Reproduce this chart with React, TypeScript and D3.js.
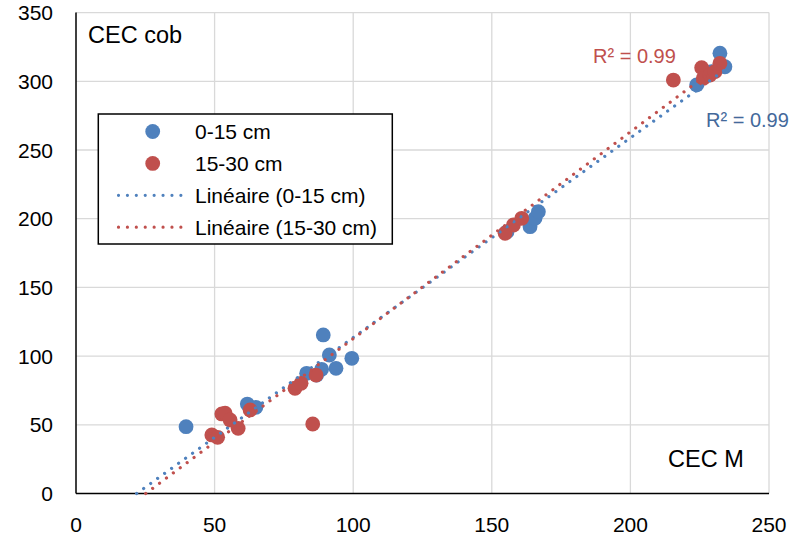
import React, { useEffect, useRef } from 'react'
import * as d3 from 'd3'

// CEC M (x) vs CEC cob (y), two soil depths
const xTicks = [0, 50, 100, 150, 200, 250]
const yTicks = [0, 50, 100, 150, 200, 250, 300, 350]

const blueX = [39.7, 61.8, 64.9, 83.2, 86.8, 88.6, 89.2, 91.4, 93.8, 99.5, 155.5, 163.8, 165.6, 166.8, 223.9, 229.3, 232.3, 234.1]
const blueY = [48.6, 65.1, 62.7, 87.5, 86.2, 90.4, 115.4, 100.8, 91.1, 98.4, 190.5, 194.2, 200.3, 205.1, 297.3, 307, 320.4, 310.6]

const redX = [49, 51.1, 52.6, 53.8, 55.6, 58.5, 62.8, 79, 81.2, 85.4, 86.6, 154.8, 157.8, 160.8, 215.5, 225.7, 226.3, 228.7, 230.5, 232.3]
const redY = [42.6, 40.9, 57.9, 58.5, 53.5, 47.4, 60.8, 76.6, 80.2, 50.6, 86.2, 189.4, 195.4, 200.3, 300.9, 309.9, 302.2, 304.6, 307, 313.1]

const seriesNames = ['0-15 cm', '15-30 cm']
const trendNames = ['Linéaire (0-15 cm)', 'Linéaire (15-30 cm)']
const r2Labels = ['R² = 0.99', 'R² = 0.99']

const BLUE = '#4F81BD'
const RED = '#C0504D'
const FONT = '"Liberation Sans", Arial, sans-serif'

function fit(xs: number[], ys: number[]) {
  const mx = d3.mean(xs) as number
  const my = d3.mean(ys) as number
  let sxy = 0
  let sxx = 0
  xs.forEach((x, i) => {
    sxy += (x - mx) * (ys[i] - my)
    sxx += (x - mx) * (x - mx)
  })
  const slope = sxy / sxx
  return { slope, intercept: my - slope * mx }
}

const App = () => {
  const ref = useRef<SVGSVGElement>(null)

  useEffect(() => {
    const svg = d3.select(ref.current)
    svg.selectAll('*').remove()

    const x = d3.scaleLinear().domain([0, 250]).range([76, 769])
    const y = d3.scaleLinear().domain([0, 350]).range([493.5, 12.6])

    // gridlines
    svg.append('g')
      .selectAll('line')
      .data(yTicks.filter((d) => d > 0))
      .join('line')
      .attr('x1', x(0)).attr('x2', x(250))
      .attr('y1', (d) => y(d)).attr('y2', (d) => y(d))
      .attr('stroke', '#D9D9D9').attr('stroke-width', 1.3)
    svg.append('g')
      .selectAll('line')
      .data(xTicks.filter((d) => d > 0))
      .join('line')
      .attr('x1', (d) => x(d)).attr('x2', (d) => x(d))
      .attr('y1', y(0)).attr('y2', y(350))
      .attr('stroke', '#D9D9D9').attr('stroke-width', 1.3)

    // axes
    svg.append('line')
      .attr('x1', x(0)).attr('x2', x(0)).attr('y1', y(0)).attr('y2', y(350))
      .attr('stroke', '#000').attr('stroke-width', 1.5)
    svg.append('line')
      .attr('x1', x(0)).attr('x2', x(250)).attr('y1', y(0)).attr('y2', y(0))
      .attr('stroke', '#000').attr('stroke-width', 1.5)

    svg.append('g')
      .selectAll('text')
      .data(yTicks)
      .join('text')
      .attr('x', 53).attr('y', (d) => y(d) + 7.5)
      .attr('text-anchor', 'end')
      .attr('font-size', 21).attr('font-family', FONT)
      .text((d) => d)
    svg.append('g')
      .selectAll('text')
      .data(xTicks)
      .join('text')
      .attr('x', (d) => x(d)).attr('y', 531.5)
      .attr('text-anchor', 'middle')
      .attr('font-size', 21).attr('font-family', FONT)
      .text((d) => d)

    // points
    const series = [
      { xs: blueX, ys: blueY, color: BLUE },
      { xs: redX, ys: redY, color: RED },
    ]
    series.forEach((s) => {
      svg.append('g')
        .selectAll('circle')
        .data(s.xs)
        .join('circle')
        .attr('cx', (d) => x(d))
        .attr('cy', (d, i) => y(s.ys[i]))
        .attr('r', 7.4)
        .attr('fill', s.color)
    })

    // linear trendlines, clipped at y = 0
    series.forEach((s) => {
      const { slope, intercept } = fit(s.xs, s.ys)
      const x0 = Math.max(0, -intercept / slope)
      const x1 = d3.max(s.xs) as number
      const line = d3.line<number>().x((d) => x(d)).y((d) => y(slope * d + intercept))
      svg.append('path')
        .attr('d', line([x0, x1]))
        .attr('fill', 'none')
        .attr('stroke', s.color)
        .attr('stroke-width', 3.2)
        .attr('stroke-linecap', 'round')
        .attr('stroke-dasharray', '0.01 8.6')
    })

    // R² labels
    svg.append('text')
      .attr('x', 593).attr('y', 63)
      .attr('font-size', 20).attr('font-family', FONT)
      .attr('fill', RED)
      .text(r2Labels[1])
    svg.append('text')
      .attr('x', 706).attr('y', 127)
      .attr('font-size', 20).attr('font-family', FONT)
      .attr('fill', '#44699B')
      .text(r2Labels[0])

    // axis titles inside plot
    svg.append('text')
      .attr('x', 88).attr('y', 42.5)
      .attr('font-size', 23.5).attr('font-family', FONT)
      .text('CEC cob')
    svg.append('text')
      .attr('x', 668).attr('y', 467)
      .attr('font-size', 23.5).attr('font-family', FONT)
      .text('CEC M')

    // legend
    const lg = svg.append('g')
    lg.append('rect')
      .attr('x', 98.3).attr('y', 114).attr('width', 294).attr('height', 130)
      .attr('fill', '#fff').attr('stroke', '#000').attr('stroke-width', 1.5)
    const rows = [
      { kind: 'dot', color: BLUE, label: seriesNames[0] },
      { kind: 'dot', color: RED, label: seriesNames[1] },
      { kind: 'line', color: BLUE, label: trendNames[0] },
      { kind: 'line', color: RED, label: trendNames[1] },
    ]
    rows.forEach((r, i) => {
      const cy = 131.5 + i * 31.9
      if (r.kind === 'dot') {
        lg.append('circle').attr('cx', 152.7).attr('cy', cy).attr('r', 7.4).attr('fill', r.color)
      } else {
        lg.append('line')
          .attr('x1', 118.5).attr('x2', 181)
          .attr('y1', cy).attr('y2', cy)
          .attr('stroke', r.color).attr('stroke-width', 3.2)
          .attr('stroke-linecap', 'round').attr('stroke-dasharray', '0.01 8.9')
      }
      lg.append('text')
        .attr('x', 195).attr('y', cy + 7.5)
        .attr('font-size', 21).attr('font-family', FONT)
        .text(r.label)
    })
  }, [])

  return (
    <svg
      ref={ref}
      width={807}
      height={539}
      style={{ position: 'absolute', left: 0, top: 0, background: '#fff' }}
    />
  )
}

export default App
